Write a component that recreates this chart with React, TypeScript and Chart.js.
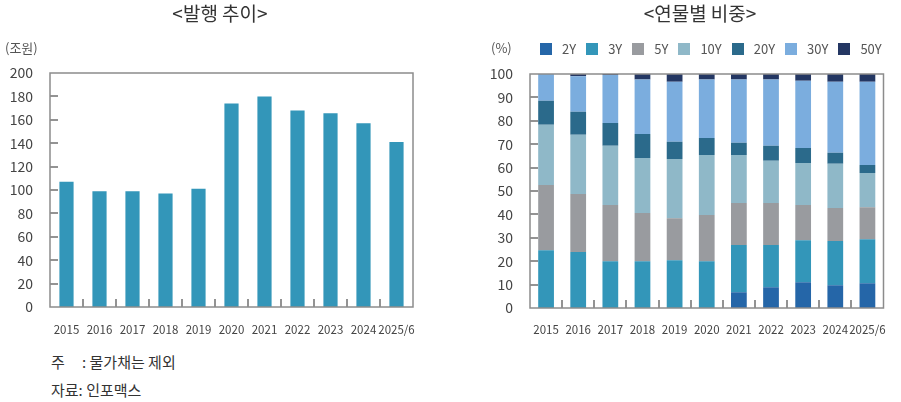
import React, { useEffect, useRef } from 'react';
import { Chart, registerables } from 'chart.js';

Chart.register(...registerables);

const FONT = "'Noto Sans CJK KR', 'Noto Sans', sans-serif";

const years = ['2015', '2016', '2017', '2018', '2019', '2020', '2021', '2022', '2023', '2024', '2025/6'];
const issuance = [107, 99, 99, 97, 101, 174, 180, 168, 165.5, 157, 141];

const tenorLabels = ['2Y', '3Y', '5Y', '10Y', '20Y', '30Y', '50Y'];
const share2Y = [0, 0, 0, 0, 0, 0, 6.7, 8.9, 11, 9.7, 10.6];
const share3Y = [24.7, 23.9, 20, 20, 20.4, 20, 20.2, 18, 18, 18.9, 18.8];
const share5Y = [27.9, 24.8, 24, 20.6, 18, 19.7, 18, 18, 15, 14.1, 13.7];
const share10Y = [25.7, 25.3, 25.3, 23.5, 25.3, 25.7, 20.5, 18, 18, 18.9, 14.6];
const share20Y = [10.3, 9.9, 9.8, 10.3, 7.3, 7.3, 5.2, 6.4, 6.4, 4.7, 3.4];
const share30Y = [11.4, 15.1, 20.5, 23.2, 25.7, 24.9, 27, 28.3, 28.7, 30.4, 35.6];
const share50Y = [0, 1.0, 0.4, 2.4, 3.3, 2.4, 2.4, 2.4, 2.9, 3.3, 3.3];
const tenorColors = ['#2566a8', '#3396b9', '#999b9f', '#8fb8c8', '#2b6a8b', '#7badde', '#243763'];

const issuanceTicks = [0, 20, 40, 60, 80, 100, 120, 140, 160, 180, 200];
const shareTicks = [0, 10, 20, 30, 40, 50, 60, 70, 80, 90, 100];

const framePlugin = {
  id: 'frameTicks',
  afterDatasetsDraw(chart: any) {
    const { ctx, chartArea: a, scales } = chart;
    ctx.save();
    const ys = scales.y;
    const xs = scales.x;
    ctx.strokeStyle = '#6f6f6f';
    ctx.lineWidth = 1.5;
    ys.ticks.forEach((_t: any, i: number) => {
      const py = Math.round(ys.getPixelForTick(i));
      if (py > a.top + 2 && py < a.bottom - 2) {
        ctx.beginPath();
        ctx.moveTo(a.left, py);
        ctx.lineTo(a.left + 8, py);
        ctx.stroke();
      }
    });
    for (let i = 0; i < xs.ticks.length - 1; i++) {
      const px = Math.round((xs.getPixelForTick(i) + xs.getPixelForTick(i + 1)) / 2);
      ctx.beginPath();
      ctx.moveTo(px, a.bottom);
      ctx.lineTo(px, a.bottom - 8);
      ctx.stroke();
    }
    ctx.strokeStyle = '#8c8c8c';
    ctx.lineWidth = 1.5;
    ctx.strokeRect(a.left, a.top, a.right - a.left, a.bottom - a.top);
    ctx.restore();
  },
};

function makeScales(opts: {
  max: number;
  step: number;
  yWidth: number;
  xHeight: number;
  xPad: number;
  stacked: boolean;
  yTicks: number[];
}) {
  return {
    x: {
      stacked: opts.stacked,
      grid: { display: false, drawTicks: false },
      border: { display: false },
      ticks: { color: '#444', font: { family: FONT, size: 11.5 }, padding: opts.xPad, maxRotation: 0, autoSkip: false },
      afterFit: (s: any) => {
        s.height = opts.xHeight;
      },
    },
    y: {
      stacked: opts.stacked,
      min: 0,
      max: opts.max,
      grid: { display: false, drawTicks: false },
      border: { display: false },
      afterBuildTicks: (s: any) => {
        s.ticks = opts.yTicks.map((v) => ({ value: v }));
      },
      ticks: { stepSize: opts.step, color: '#444', font: { family: FONT, size: 14 }, padding: 17 },
      afterFit: (s: any) => {
        s.width = opts.yWidth;
      },
    },
  };
}

function IssuanceChart() {
  const ref = useRef<HTMLCanvasElement>(null);
  useEffect(() => {
    const chart = new Chart(ref.current as HTMLCanvasElement, {
      type: 'bar',
      data: {
        labels: years,
        datasets: [
          {
            label: '발행액',
            data: issuance,
            backgroundColor: '#3396b9',
            barPercentage: 0.43,
            categoryPercentage: 1,
          },
        ],
      },
      options: {
        animation: false,
        responsive: false,
        maintainAspectRatio: false,
        layout: { padding: { top: 73, right: 37, left: 0, bottom: 0 } },
        plugins: { legend: { display: false }, tooltip: { enabled: false } },
        scales: makeScales({ max: 200, step: 20, yWidth: 50, xHeight: 38, xPad: 16, stacked: false, yTicks: issuanceTicks }) as any,
      },
      plugins: [framePlugin],
    });
    return () => chart.destroy();
  }, []);
  return <canvas ref={ref} width={450} height={345} style={{ position: 'absolute', left: 0, top: 0, width: 450, height: 345 }} />;
}

function ShareChart() {
  const ref = useRef<HTMLCanvasElement>(null);
  useEffect(() => {
    const series = [share2Y, share3Y, share5Y, share10Y, share20Y, share30Y, share50Y];
    const chart = new Chart(ref.current as HTMLCanvasElement, {
      type: 'bar',
      data: {
        labels: years,
        datasets: tenorLabels.map((label, i) => ({
          label,
          data: series[i],
          backgroundColor: tenorColors[i],
          barPercentage: 0.49,
          categoryPercentage: 1,
        })),
      },
      options: {
        animation: false,
        responsive: false,
        maintainAspectRatio: false,
        layout: { padding: { top: 74, right: 8, left: 0, bottom: 0 } },
        plugins: { legend: { display: false }, tooltip: { enabled: false } },
        scales: makeScales({ max: 100, step: 10, yWidth: 80, xHeight: 37, xPad: 15, stacked: true, yTicks: shareTicks }) as any,
      },
      plugins: [framePlugin],
    });
    return () => chart.destroy();
  }, []);
  return <canvas ref={ref} width={451} height={345} style={{ position: 'absolute', left: 450, top: 0, width: 451, height: 345 }} />;
}

export default function App() {
  const text: React.CSSProperties = { position: 'absolute', fontFamily: FONT, color: '#333', whiteSpace: 'nowrap', lineHeight: 1 };
  return (
    <div style={{ position: 'absolute', left: 0, top: 0, width: 901, height: 402, background: '#fff', overflow: 'hidden' }}>
      <IssuanceChart />
      <ShareChart />
      <div style={{ ...text, left: 120, width: 200, top: 3, fontSize: 19, textAlign: 'center' }}>&lt;발행 추이&gt;</div>
      <div style={{ ...text, left: 600, width: 200, top: 3, fontSize: 19, textAlign: 'center' }}>&lt;연물별 비중&gt;</div>
      <div style={{ ...text, left: 5, top: 41, fontSize: 13, color: '#555' }}>(조원)</div>
      <div style={{ ...text, left: 491, top: 41, fontSize: 13, color: '#555' }}>(%)</div>
      <div style={{ position: 'absolute', left: 540, top: 42, display: 'flex', alignItems: 'center', fontFamily: FONT, fontSize: 13, color: '#555', lineHeight: 1 }}>
        {tenorLabels.map((l, i) => (
          <div key={l} style={{ display: 'flex', alignItems: 'center', marginRight: 10 }}>
            <span style={{ display: 'inline-block', width: 12, height: 12, background: tenorColors[i], marginRight: 10 }} />
            <span>{l}</span>
          </div>
        ))}
      </div>
      <div style={{ ...text, left: 51, top: 354, fontSize: 15 }}>
        <span style={{ display: 'inline-block', width: 31 }}>주</span>: 물가채는 제외
      </div>
      <div style={{ ...text, left: 51, top: 382, fontSize: 15 }}>자료: 인포맥스</div>
    </div>
  );
}
